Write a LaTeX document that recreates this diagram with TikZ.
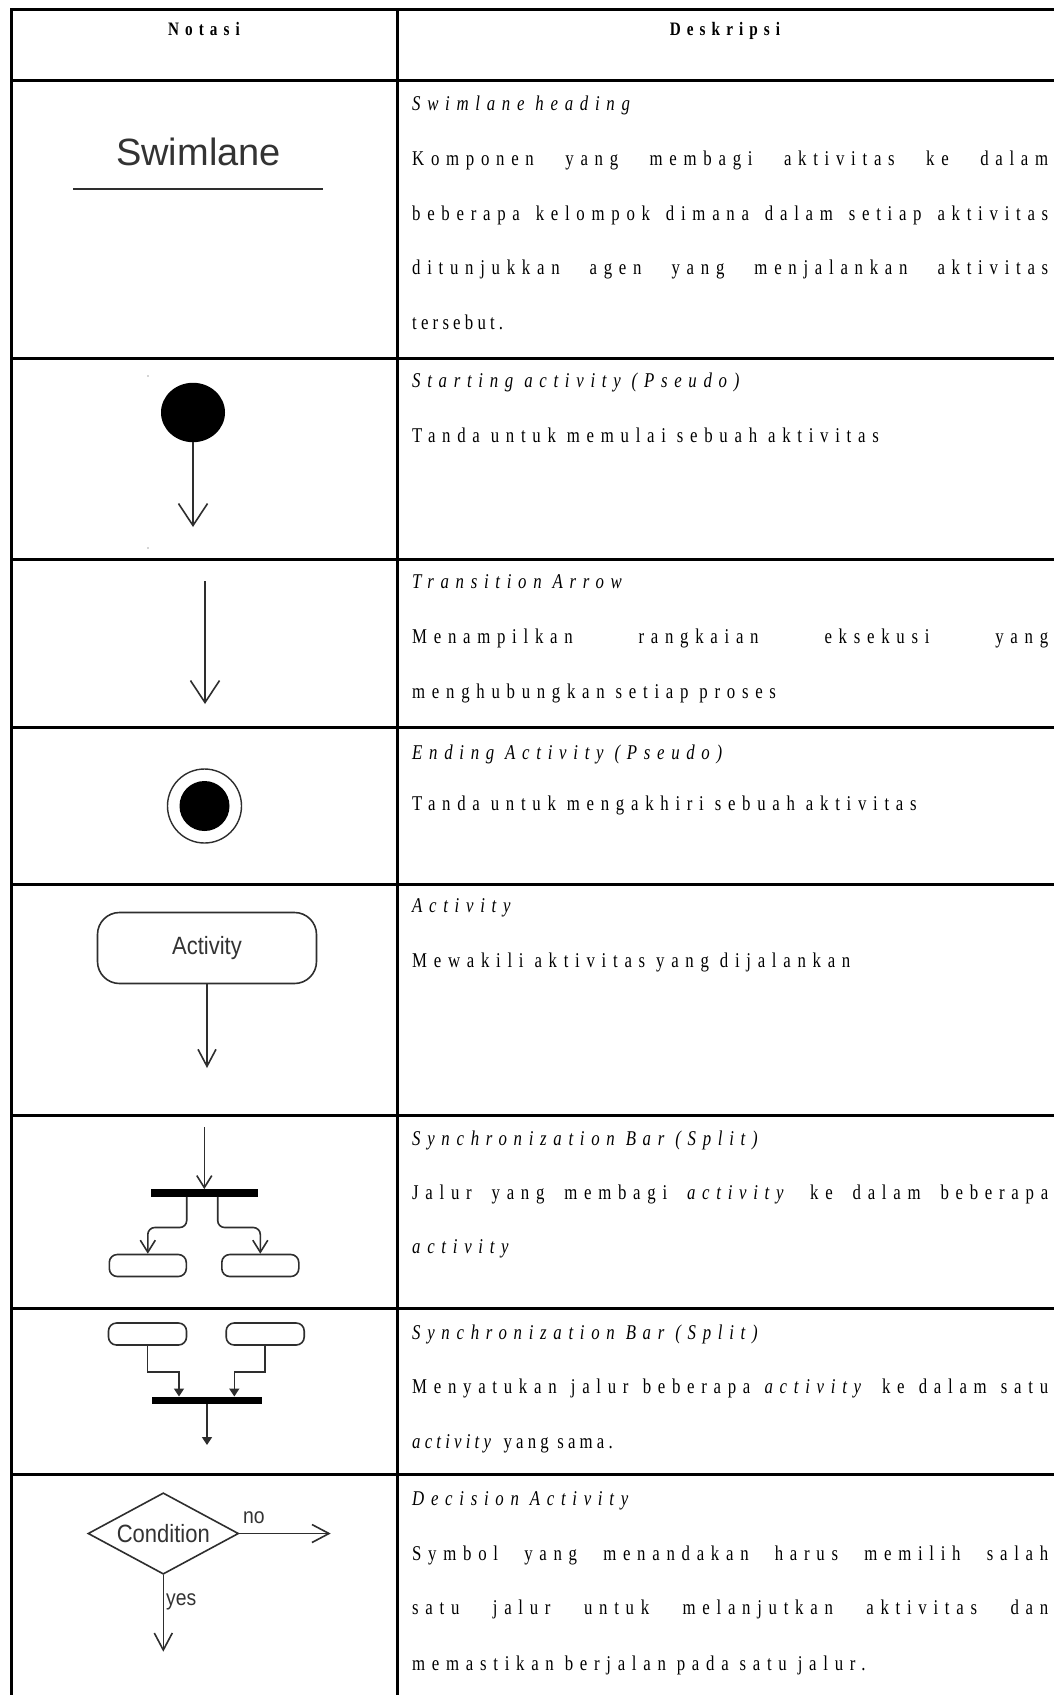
\documentclass[tikz,border=0pt]{standalone}
\usepackage{fontspec}
\setmainfont{Liberation Serif}[FakeStretch=0.8, LetterSpace=32]
\newfontfamily\diagfont{Liberation Sans}[FakeStretch=0.88]
\newfontfamily\swfont{Liberation Sans}
\usetikzlibrary{arrows.meta, shapes.geometric, calc}

% a justified description line spanning the whole column
\newcommand\justline[1]{\makebox[636pt][s]{#1}}
% a description line set with its own tracking
\newcommand\tracked[2]{{\addfontfeature{LetterSpace=#1}#2}}

\tikzset{
  rule/.style={line width=3pt, line cap=rect},
  desc/.style={anchor=base west, inner sep=0pt, font=\fontsize{21}{24}\selectfont},
  head/.style={anchor=base, inner sep=0pt, font=\fontsize{19}{22}\selectfont\bfseries},
  ink/.style={draw=black!82, line width=1.6pt},
  lbl/.style={inner sep=0pt, text=black!80, font=\diagfont\fontsize{25}{25}\selectfont},
  tag/.style={inner sep=0pt, text=black!80, font=\diagfont\fontsize{22}{22}\selectfont},
  bigv/.style={-{Straight Barb[length=22pt,width=29pt]}},
  midv/.style={-{Straight Barb[length=17pt,width=18pt]}},
  smallv/.style={-{Straight Barb[length=12pt,width=15pt]}},
  solidtip/.style={-{Triangle[length=8pt,width=10pt]}},
  syncbar/.style={fill=black, inner sep=0pt},
  smallbox/.style={ink, rounded corners=8pt, minimum width=77pt, minimum height=22pt, inner sep=0pt},
}

\begin{document}
\begin{tikzpicture}[x=1pt, y=-1pt]
\useasboundingbox (0,0) rectangle (1054,1695);
\fill[white] (0,0) rectangle (1054,1695);

% ---- table grid ----
\draw[rule] (11,9) -- (1054,9);
\foreach \yy in {80,358,559,727,884,1115,1308,1474}
  \draw[rule] (11,\yy) -- (1054,\yy);
\draw[rule] (11,9) -- (11,1695);
\draw[rule] (397,9) -- (397,1695);

% ---- header ----
\node[head] (hnot) at (204,35) {Notasi};
\node[head] (hdes) at (725,35) {Deskripsi};

% ---- row 1: swimlane ----
\node[lbl, anchor=base, font=\swfont\fontsize{38}{38}\selectfont] (swtext) at (198.5,165) {Swimlane};
\coordinate (swl) at (73,189);
\coordinate (swr) at (323,189);
\draw[ink, line width=2.7pt] (swl) -- (swr);

\node[desc] (d1a) at (412,110) {\itshape Swimlane heading};
\node[desc] (d1b) at (412,165) {\justline{Komponen yang membagi aktivitas ke dalam}};
\node[desc] (d1c) at (412,220) {\justline{beberapa kelompok dimana dalam setiap aktivitas}};
\node[desc] (d1d) at (412,274) {\justline{ditunjukkan agen yang menjalankan aktivitas}};
\node[desc] (d1e) at (412,329) {\tracked{20}{tersebut.}};

% ---- row 2: starting activity ----
\fill[black!70] (148,376) circle (0.7pt);
\fill[black!70] (148,548) circle (0.7pt);
\node[ellipse, fill=black, minimum width=64pt, minimum height=59.4pt, inner sep=0pt] (start) at (193,412.5) {};
\coordinate (startend) at (193,527);
\draw[ink, bigv] (start.south) -- (startend);

\node[desc] (d2a) at (412,387) {\itshape Starting activity (Pseudo)};
\node[desc] (d2b) at (412,442) {Tanda untuk memulai sebuah aktivitas};

% ---- row 3: transition arrow ----
\coordinate (trtop) at (205,581);
\coordinate (trend) at (205,704);
\draw[ink, bigv] (trtop) -- (trend);

\node[desc] (d3a) at (412,588) {\itshape Transition Arrow};
\node[desc] (d3b) at (412,643) {\justline{Menampilkan rangkaian eksekusi yang}};
\node[desc] (d3c) at (412,698) {menghubungkan setiap proses};

% ---- row 4: ending activity ----
\node[circle, draw=black!82, line width=1.4pt, minimum size=74pt, inner sep=0pt] (endo) at (204.5,806) {};
\node[circle, fill=black, minimum size=50pt, inner sep=0pt] (endi) at (endo.center) {};

\node[desc] (d4a) at (412,759) {\itshape Ending Activity (Pseudo)};
\node[desc] (d4b) at (412,810) {Tanda untuk mengakhiri sebuah aktivitas};

% ---- row 5: activity ----
\node[ink, lbl, rounded corners=22pt, minimum width=219pt, minimum height=71pt] (act) at (207,948) {Activity};
\coordinate (actend) at (207,1068);
\draw[ink, midv] (act.south) -- (actend);

\node[desc] (d5a) at (412,912) {\itshape Activity};
\node[desc] (d5b) at (412,967) {Mewakili aktivitas yang dijalankan};

% ---- row 6: fork ----
\coordinate (fin) at (204.3,1127);
\node[syncbar, minimum width=106.7pt, minimum height=7.4pt] (fbar) at (204.3,1193) {};
\node[smallbox] (fl) at (147.8,1265.5) {};
\node[smallbox] (fr) at (260.3,1265.5) {};
\draw[ink, smallv] (fin) -- (fbar.north);
\draw[ink, smallv, rounded corners=7pt] ([xshift=-17.6pt]fbar.south) -- ++(0,30.6) -| (fl.north);
\draw[ink, smallv, rounded corners=7pt] ([xshift=13.4pt]fbar.south) -- ++(0,30.6) -| (fr.north);

\node[desc] (d6a) at (412,1145) {\itshape Synchronization Bar (Split)};
\node[desc] (d6b) at (412,1199) {\justline{Jalur yang membagi \textit{activity} ke dalam beberapa}};
\node[desc] (d6c) at (412,1253) {\itshape activity};

% ---- row 7: join ----
\node[smallbox, minimum width=78pt] (jl) at (147.5,1334) {};
\node[smallbox, minimum width=78pt] (jr) at (265.2,1334) {};
\node[syncbar, minimum width=110.6pt, minimum height=7.4pt] (jbar) at (207,1400.4) {};
\coordinate (jout) at (207,1445);
\draw[ink, solidtip] (jl.south) -- ++(0,26) -| ([xshift=-28pt]jbar.north);
\draw[ink, solidtip] (jr.south) -- ++(0,26) -| ([xshift=27.3pt]jbar.north);
\draw[ink, solidtip] (jbar.south) -- (jout);

\node[desc] (d7a) at (412,1339) {\itshape Synchronization Bar (Split)};
\node[desc] (d7b) at (412,1393) {\justline{Menyatukan jalur beberapa \textit{activity} ke dalam satu}};
\node[desc] (d7c) at (412,1448) {\tracked{20}{\textit{activity} yang sama.}};

% ---- row 8: decision ----
\node[ink, lbl, diamond, aspect=1.85, minimum width=150.6pt, minimum height=81.4pt] (cond) at (163.3,1533.5) {Condition};
\coordinate (noend) at (330.7,1533.5);
\coordinate (yesend) at (163.3,1651.7);
\draw[ink, midv] (cond.east) -- (noend);
\draw[ink, midv] (cond.south) -- (yesend);
\node[tag] (nolbl) at (254,1518) {no};
\node[tag, anchor=west] (yeslbl) at (166,1601.7) {yes};

\node[desc] (d8a) at (412,1505) {\itshape Decision Activity};
\node[desc] (d8b) at (412,1560) {\justline{Symbol yang menandakan harus memilih salah}};
\node[desc] (d8c) at (412,1614) {\justline{satu jalur untuk melanjutkan aktivitas dan}};
\node[desc] (d8d) at (412,1670) {memastikan berjalan pada satu jalur.};
\end{tikzpicture}
\end{document}
